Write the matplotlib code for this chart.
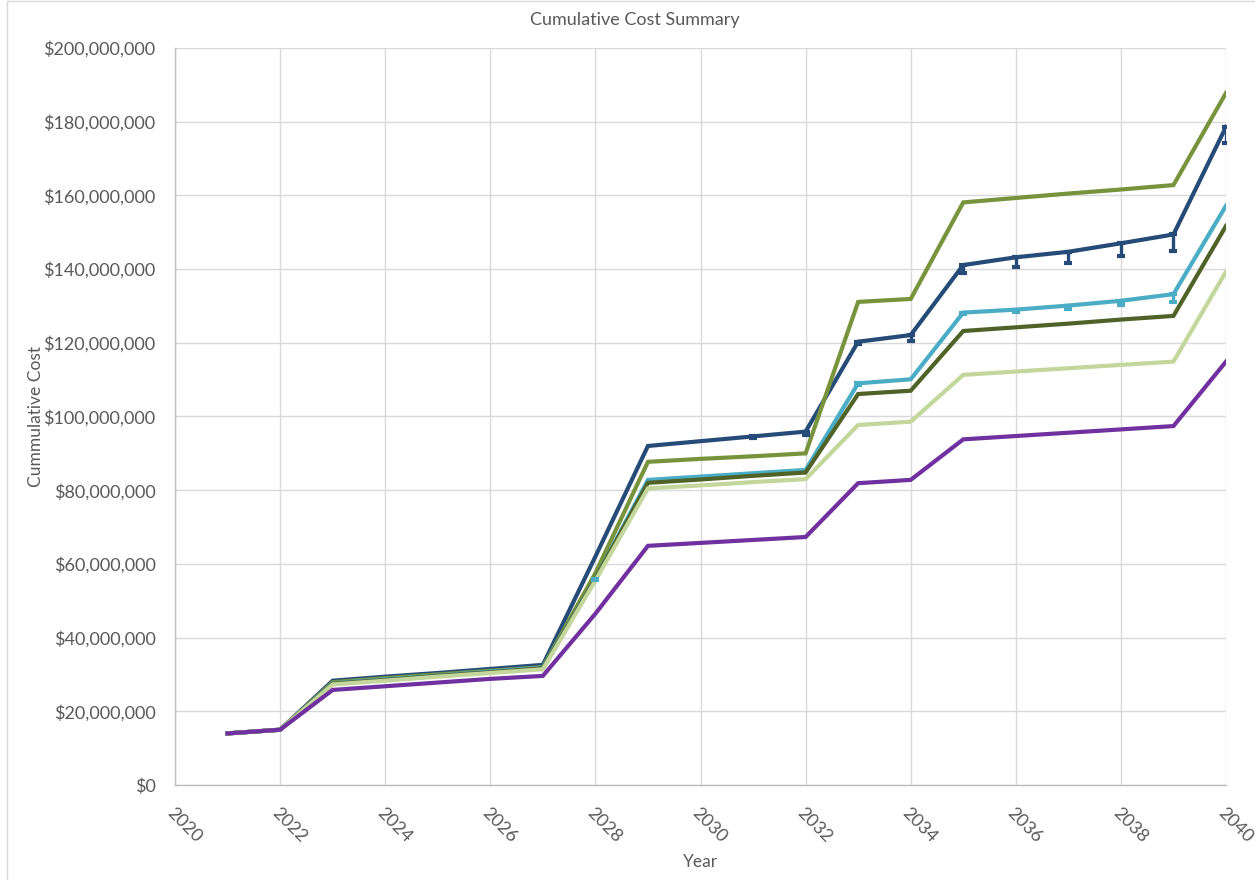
import matplotlib
matplotlib.use('Agg')
import matplotlib.pyplot as plt
from matplotlib.ticker import FuncFormatter, MultipleLocator
from matplotlib.patches import Rectangle
import numpy as np

plt.rcParams['font.family'] = ['Lato', 'DejaVu Sans']

# cumulative cost per scenario, in millions of dollars
years = list(range(2021, 2041))

cost_darkblue = [14.0, 15.0, 28.3, 29.4, 30.4, 31.5, 32.6, 62.0, 92.0, 93.3,
                 94.6, 95.9, 120.3, 122.1, 141.1, 143.2, 144.7, 147.0, 149.4, 178.6]
cost_olive = [14.0, 15.0, 27.9, 29.0, 30.0, 31.0, 32.0, 57.5, 87.7, 88.5,
              89.2, 90.0, 131.1, 131.9, 158.1, 159.3, 160.5, 161.6, 162.8, 187.8]
cost_lightblue = [14.0, 15.0, 27.6, 28.7, 29.7, 30.8, 31.9, 56.0, 82.8, 83.7,
                  84.6, 85.5, 109.0, 110.1, 128.2, 129.0, 130.1, 131.4, 133.2, 157.2]
cost_darkolive = [14.0, 15.0, 27.5, 28.5, 29.6, 30.6, 31.7, 56.0, 82.0, 82.9,
                  83.9, 84.8, 106.1, 107.0, 123.2, 124.2, 125.2, 126.3, 127.3, 151.7]
cost_lightgreen = [14.0, 15.0, 27.3, 28.3, 29.4, 30.4, 31.4, 55.5, 80.5, 81.3,
                   82.2, 83.0, 97.7, 98.6, 111.3, 112.2, 113.1, 114.0, 114.9, 139.3]
cost_purple = [14.0, 15.0, 25.8, 26.8, 27.8, 28.8, 29.6, 46.5, 64.9, 65.7,
               66.5, 67.3, 81.9, 82.8, 93.8, 94.7, 95.6, 96.5, 97.4, 114.9]

# minus-only error bars (millions), 0 = no bar
err_darkblue = [0, 0, 0, 0, 0, 0, 0, 0, 0, 0,
                0.5, 0.9, 0.6, 1.5, 2.1, 2.6, 3.0, 3.4, 4.5, 4.5]
err_lightblue = [0, 0, 0, 0, 0, 0, 0, 0.5, 0, 0,
                 0, 0, 0.5, 0, 0.4, 0.7, 0.9, 1.2, 2.2, 0]

series = [
    (cost_darkblue, '#264B78'),
    (cost_olive, '#77933C'),
    (cost_lightblue, '#4BACC6'),
    (cost_darkolive, '#4F6228'),
    (cost_lightgreen, '#C3D69B'),
    (cost_purple, '#7030A0'),
]
errors = [(cost_darkblue, err_darkblue, '#264B78'),
          (cost_lightblue, err_lightblue, '#4BACC6')]

M = 1e6
grey = '#595959'

fig = plt.figure(figsize=(12.55, 8.8), dpi=100)
ax = fig.add_axes([175 / 1255, 95 / 880, 1051 / 1255, 737 / 880])

for vals, col in series:
    ax.plot(years, np.array(vals) * M, color=col, lw=3.0, solid_joinstyle='miter', zorder=3)

# error bars only where there is one
for vals, err, col in errors:
    yrs = [y for y, e in zip(years, err) if e > 0]
    v = [val * M for val, e in zip(vals, err) if e > 0]
    lo = [e * M for e in err if e > 0]
    ax.errorbar(yrs, v, yerr=[lo, [0] * len(lo)], fmt='none', ecolor=col,
                elinewidth=2.4, capsize=3, capthick=3, zorder=4)

ax.set_xlim(2020, 2040)
ax.set_ylim(0, 200 * M)
ax.xaxis.set_major_locator(MultipleLocator(2))
ax.yaxis.set_major_locator(MultipleLocator(20 * M))
ax.yaxis.set_major_formatter(FuncFormatter(lambda v, p: '${:,.0f}'.format(v)))

ax.grid(True, color='#D9D9D9', lw=1)
ax.set_axisbelow(True)
for s in ['top', 'right']:
    ax.spines[s].set_visible(False)
for s in ['left', 'bottom']:
    ax.spines[s].set_color('#BFBFBF')
    ax.spines[s].set_linewidth(1)

ax.tick_params(axis='both', length=0, labelsize=13, colors=grey)
ax.tick_params(axis='y', pad=14)
ax.tick_params(axis='x', pad=14)
for lab in ax.get_xticklabels():
    lab.set_rotation(-45)
    lab.set_ha('left')
    lab.set_va('top')
    lab.set_rotation_mode('anchor')

ax.set_xlabel('Year', fontsize=12.5, color=grey)
ax.set_ylabel('Cummulative Cost', fontsize=12.5, color=grey)
ax.xaxis.set_label_coords(0.5, -0.094)
ax.yaxis.set_label_coords(-0.125, 0.5)

fig.text(635 / 1255, 1 - 20 / 880, 'Cumulative Cost Summary', ha='center', va='center',
         fontsize=13, color=grey)

# light border round the chart area
fig.patches.append(Rectangle((7 / 1255, -0.01), 1.0, 1.01 - 1.5 / 880, transform=fig.transFigure,
                             fill=False, edgecolor='#D9D9D9', lw=1))

fig.savefig('out.png', dpi=100)
